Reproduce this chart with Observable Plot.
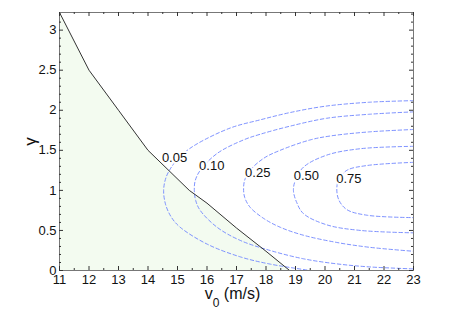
<!DOCTYPE html>
<html><head><meta charset="utf-8">
<script src="https://cdn.jsdelivr.net/npm/d3@7"></script>
<script src="https://cdn.jsdelivr.net/npm/@observablehq/plot@0.6"></script>
<style>
body{margin:0;background:#fff}
svg{font-family:"Liberation Sans",Arial,Helvetica,sans-serif}
</style>
</head><body><div id="chart"></div>
<script>
// Axis ticks
const xTicks = [11,12,13,14,15,16,17,18,19,20,21,22,23];
const xMinor = [11.5,12.5,13.5,14.5,15.5,16.5,17.5,18.5,19.5,20.5,21.5,22.5];
const yTicks = [0,0.5,1,1.5,2,2.5,3];
const yTickLabels = ["0","0.5","1","1.5","2","2.5","3"];
const yMinor = [0.1,0.2,0.3,0.4,0.6,0.7,0.8,0.9,1.1,1.2,1.3,1.4,1.6,1.7,1.8,1.9,2.1,2.2,2.3,2.4,2.6,2.7,2.8,2.9,3.1,3.2];

// Boundary (black line, shaded region below)
const boundaryV = [11, 12, 13, 14, 15.4, 16, 17, 18, 18.8];
const boundaryG = [3.22, 2.5, 2.0, 1.5, 1.0, 0.84, 0.53, 0.24, 0];

// Contour levels (dashed blue)
const c05V = [23, 21.5, 20.0, 18.8, 17.8, 16.8, 15.66, 15.2, 14.87, 14.62, 14.53, 14.6, 14.8, 15.09, 16.0, 17.13, 18.14, 19.5];
const c05G = [2.12, 2.10, 2.05, 1.97, 1.88, 1.78, 1.58, 1.46, 1.33, 1.17, 1.0, 0.82, 0.66, 0.54, 0.33, 0.17, 0.08, 0];
const c10V = [23, 21.5, 20.06, 18.8, 17.8, 17.24, 16.34, 15.77, 15.6, 15.57, 15.62, 15.77, 16.34, 17.13, 18.14, 19.27, 20.4, 21.5, 23];
const c10G = [1.98, 1.95, 1.90, 1.80, 1.70, 1.63, 1.46, 1.25, 1.12, 1.0, 0.87, 0.75, 0.54, 0.375, 0.25, 0.146, 0.083, 0.045, 0.02];
const c25V = [23, 21.5, 20.2, 19.5, 18.48, 17.92, 17.46, 17.28, 17.24, 17.28, 17.46, 17.92, 18.48, 19.27, 20.4, 21.5, 23];
const c25G = [1.76, 1.73, 1.68, 1.63, 1.50, 1.40, 1.25, 1.13, 1.02, 0.91, 0.79, 0.65, 0.54, 0.44, 0.35, 0.29, 0.24];
const c50V = [23, 21.2, 20.06, 19.27, 19.0, 18.93, 19.04, 19.27, 20.06, 21.2, 23];
const c50G = [1.55, 1.52, 1.44, 1.29, 1.13, 1.0, 0.85, 0.71, 0.57, 0.50, 0.47];
const c75V = [23, 21.42, 20.74, 20.47, 20.4, 20.47, 20.74, 21.42, 23];
const c75G = [1.35, 1.31, 1.25, 1.14, 1.02, 0.88, 0.76, 0.69, 0.66];

// Contour labels
const labelText = ["0.05", "0.10", "0.25", "0.50", "0.75"];
const labelV = [14.9, 16.16, 17.72, 19.37, 20.81];
const labelG = [1.40, 1.31, 1.225, 1.18, 1.15];

const zip = (vs, gs) => vs.map((v, i) => ({v, g: gs[i]}));
const boundary = zip(boundaryV, boundaryG);
const contours = [
  {level: "0.05", pts: zip(c05V, c05G)},
  {level: "0.10", pts: zip(c10V, c10G)},
  {level: "0.25", pts: zip(c25V, c25G)},
  {level: "0.50", pts: zip(c50V, c50G)},
  {level: "0.75", pts: zip(c75V, c75G)}
];
const labels = labelText.map((t, i) => ({t, v: labelV[i], g: labelG[i]}));

const W = 457, H = 318, mL = 59, mR = 44, mT = 12, mB = 48;
const pw = W - mL - mR, ph = H - mT - mB;
const blue = "#6f86ff";
const tickColor = "#333";

const marks = [
  Plot.areaY(boundary, {x: "v", y: "g", fill: "#f3fbf0"}),
  ...contours.map(c => Plot.line(c.pts, {x: "v", y: "g", stroke: blue, strokeWidth: 0.9, strokeDasharray: "3.5,2.5", curve: "catmull-rom"})),
  Plot.text(labels, {x: "v", y: "g", text: "t", fontSize: 13, fill: "#111", stroke: "white", strokeWidth: 4, paintOrder: "stroke"}),
  Plot.line(boundary, {x: "v", y: "g", stroke: "#333", strokeWidth: 1}),
  Plot.frame({stroke: "#777", strokeWidth: 1}),
  // inward ticks: bottom, top, left, right
  Plot.ruleX(xTicks, {x: d => d, insetTop: ph - 4, stroke: tickColor}),
  Plot.ruleX(xTicks, {x: d => d, insetBottom: ph - 4, stroke: tickColor}),
  Plot.ruleX(xMinor, {x: d => d, insetTop: ph - 2, stroke: tickColor}),
  Plot.ruleX(xMinor, {x: d => d, insetBottom: ph - 2, stroke: tickColor}),
  Plot.ruleY(yTicks, {y: d => d, insetRight: pw - 4, stroke: tickColor}),
  Plot.ruleY(yTicks, {y: d => d, insetLeft: pw - 4, stroke: tickColor}),
  Plot.ruleY(yMinor, {y: d => d, insetRight: pw - 2, stroke: tickColor}),
  Plot.ruleY(yMinor, {y: d => d, insetLeft: pw - 2, stroke: tickColor}),
  Plot.axisX(xTicks, {tickSize: 0, tickPadding: 4, fontSize: 13, label: null, fill: "#111"}),
  Plot.axisY(yTicks, {tickSize: 0, tickPadding: 3, fontSize: 13, fill: "#111",
    tickFormat: d => yTickLabels[yTicks.indexOf(d)],
    label: "γ", labelAnchor: "center", labelArrow: "none", labelOffset: 36}),
  Plot.text(["v0 (m/s)"], {frameAnchor: "bottom", text: d => d, dy: 28, dx: -4, fontSize: 16, lineAnchor: "bottom", fill: "#111"})
];

const chart = Plot.plot({
  width: W, height: H,
  marginLeft: mL, marginRight: mR, marginTop: mT, marginBottom: mB,
  x: {domain: [11, 23]},
  y: {domain: [0, 3.22]},
  style: {fontFamily: "Liberation Sans, Arial, sans-serif", fontSize: "13px", background: "white"},
  marks
});
document.getElementById("chart").appendChild(chart);

chart.querySelectorAll("text").forEach(t => {
  // subscript for the x label
  if (t.textContent === "v0 (m/s)") {
    t.textContent = "";
    const ns = "http://www.w3.org/2000/svg";
    const a = document.createElementNS(ns, "tspan"); a.textContent = "v"; a.setAttribute("font-size", "16");
    const b = document.createElementNS(ns, "tspan"); b.textContent = "0"; b.setAttribute("dy", "8"); b.setAttribute("font-size", "12");
    const c = document.createElementNS(ns, "tspan"); c.textContent = " (m/s)"; c.setAttribute("dy", "-8"); c.setAttribute("font-size", "16");
    t.append(a, b, c);
  }
  // larger y label glyph
  if (t.textContent.trim() === "γ") {
    t.setAttribute("font-size", "17");
    t.style.fontSize = "17px";
  }
});
</script>
</body></html>
